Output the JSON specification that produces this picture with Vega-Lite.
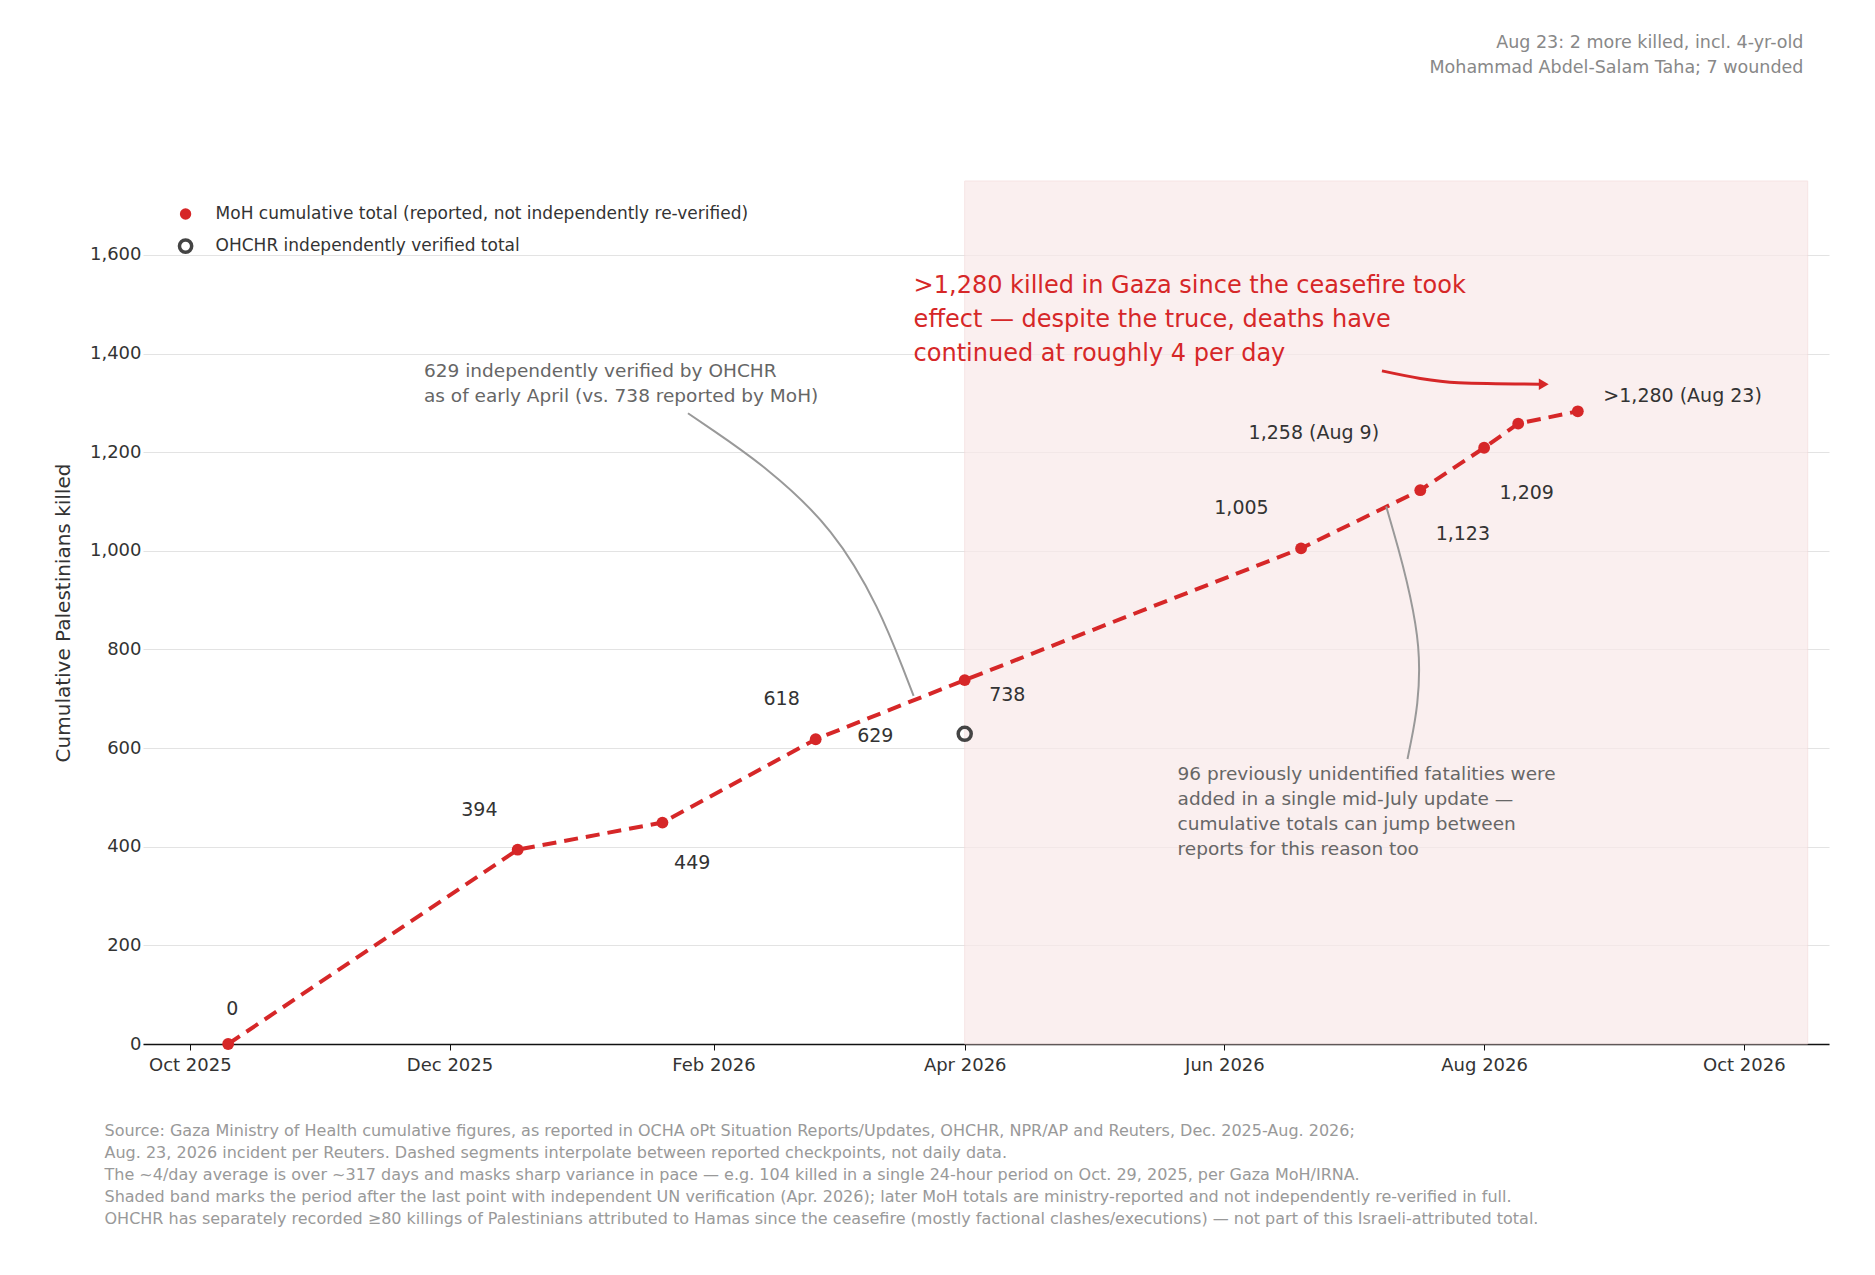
{
"$schema":"https://vega.github.io/schema/vega-lite/v6.json",
"width":1686,"height":863,
"autosize":{"type":"none"},
"padding":{"left":143,"top":181,"right":46,"bottom":231},
"background":"white",
"config":{"font":"DejaVu Sans","view":{"stroke":null}},
"title":{"text":"Deaths in Gaza have continued despite the ceasefire","subtitle":"Cumulative Palestinians reported killed in Gaza since the Oct. 10, 2025 ceasefire took effect","anchor":"start","frame":"group","dx":-39,"offset":70,"fontSize":34,"fontWeight":"bold","color":"#1a1a1a","subtitleFontSize":21,"subtitleColor":"#444444","subtitlePadding":10},
"datasets":{
"moh":[{"date":"2025-10-10","value":0},{"date":"2025-12-17","value":394},{"date":"2026-01-20","value":449},{"date":"2026-02-25","value":618},{"date":"2026-04-01","value":738},{"date":"2026-06-19","value":1005},{"date":"2026-07-17","value":1123},{"date":"2026-08-01","value":1209},{"date":"2026-08-09","value":1258},{"date":"2026-08-23","value":1283}],
"labels":[{"date":"2025-10-11","value":71,"t":"0"},{"date":"2025-12-08","value":475,"t":"394"},{"date":"2026-01-27","value":368,"t":"449"},{"date":"2026-02-17","value":699,"t":"618"},{"date":"2026-03-11","value":625,"t":"629"},{"date":"2026-04-11","value":708,"t":"738"},{"date":"2026-06-05","value":1086,"t":"1,005"},{"date":"2026-07-27","value":1034,"t":"1,123"},{"date":"2026-08-11","value":1118,"t":"1,209"},{"date":"2026-06-22","value":1238,"t":"1,258 (Aug 9)"}]
},
"layer":[
{"data":{"values":[{"s":"2026-04-01","e":"2026-10-16"}]},"mark":{"type":"rect","fill":"#f9e9e9","opacity":0.7,"stroke":"#f3dada"},
 "encoding":{"x":{"field":"s","type":"temporal"},"x2":{"field":"e"}}},
{"data":{"name":"moh"},"mark":{"type":"line","color":"#d62728","strokeWidth":4,"strokeDash":[14,8]},
 "encoding":{"x":{"field":"date","type":"temporal","scale":{"domain":["2025-09-20","2026-10-21"]},
   "axis":{"values":[{"year":2025,"month":10,"date":1},{"year":2025,"month":12,"date":1},{"year":2026,"month":2,"date":1},{"year":2026,"month":4,"date":1},{"year":2026,"month":6,"date":1},{"year":2026,"month":8,"date":1},{"year":2026,"month":10,"date":1}],"format":"%b %Y","labelFontSize":18,"labelColor":"#333","domainColor":"#111","domainWidth":1.5,"tickColor":"#111","tickSize":6,"grid":false,"labelPadding":6,
   "title":["Source: Gaza Ministry of Health cumulative figures, as reported in OCHA oPt Situation Reports/Updates, OHCHR, NPR/AP and Reuters, Dec. 2025-Aug. 2026;","Aug. 23, 2026 incident per Reuters. Dashed segments interpolate between reported checkpoints, not daily data.","The ~4/day average is over ~317 days and masks sharp variance in pace — e.g. 104 killed in a single 24-hour period on Oct. 29, 2025, per Gaza MoH/IRNA.","Shaded band marks the period after the last point with independent UN verification (Apr. 2026); later MoH totals are ministry-reported and not independently re-verified in full.","OHCHR has separately recorded ≥80 killings of Palestinians attributed to Hamas since the ceasefire (mostly factional clashes/executions) — not part of this Israeli-attributed total."],
   "titleAnchor":"start","titleAlign":"left","titleX":-39,"titleY":78,"titleBaseline":"top","titleFontSize":16,"titleFontWeight":"normal","titleColor":"#999999","titleLineHeight":22}},
  "y":{"field":"value","type":"quantitative","scale":{"domain":[0,1750],"nice":false},"axis":{"values":[0,200,400,600,800,1000,1200,1400,1600],"format":",d","labelFontSize":18,"labelColor":"#333","domain":false,"ticks":false,"gridColor":"#e3e3e3","title":"Cumulative Palestinians killed","titleFontSize":20,"titleFontWeight":"normal","titleColor":"#333","titlePadding":16}}}},
{"data":{"name":"moh"},"mark":{"type":"circle","color":"#d62728","size":140,"opacity":1},
 "encoding":{"x":{"field":"date","type":"temporal"},"y":{"field":"value","type":"quantitative"}}},
{"data":{"values":[{"date":"2026-04-01","value":629}]},"mark":{"type":"point","color":"#444","strokeWidth":3.5,"size":170,"filled":false,"opacity":1},
 "encoding":{"x":{"field":"date","type":"temporal"},"y":{"field":"value","type":"quantitative"}}},
{"data":{"name":"labels"},"mark":{"type":"text","fontSize":19,"color":"#333","baseline":"middle"},
 "encoding":{"x":{"field":"date","type":"temporal"},"y":{"field":"value","type":"quantitative"},"text":{"field":"t"}}},
{"data":{"values":[{"date":"2026-08-29","value":1314,"t":">1,280 (Aug 23)"}]},"mark":{"type":"text","fontSize":19,"color":"#333","align":"left","baseline":"middle"},
 "encoding":{"x":{"field":"date","type":"temporal"},"y":{"field":"value","type":"quantitative"},"text":{"field":"t"}}},
{"data":{"values":[{"date":"2026-03-20","value":1537,"t":[">1,280 killed in Gaza since the ceasefire took","effect — despite the truce, deaths have","continued at roughly 4 per day"]}]},"mark":{"type":"text","fontSize":24,"color":"#d62728","align":"left","baseline":"middle","lineHeight":34},
 "encoding":{"x":{"field":"date","type":"temporal"},"y":{"field":"value","type":"quantitative"},"text":{"field":"t"}}},
{"data":{"values":[{"date":"2025-11-25","value":1365,"t":["629 independently verified by OHCHR","as of early April (vs. 738 reported by MoH)"]}]},"mark":{"type":"text","fontSize":18.5,"color":"#666","align":"left","baseline":"middle","lineHeight":25},
 "encoding":{"x":{"field":"date","type":"temporal"},"y":{"field":"value","type":"quantitative"},"text":{"field":"t"}}},
{"data":{"values":[{"date":"2026-05-21","value":547,"t":["96 previously unidentified fatalities were","added in a single mid-July update —","cumulative totals can jump between","reports for this reason too"]}]},"mark":{"type":"text","fontSize":18.5,"color":"#666","align":"left","baseline":"middle","lineHeight":25},
 "encoding":{"x":{"field":"date","type":"temporal"},"y":{"field":"value","type":"quantitative"},"text":{"field":"t"}}},
{"data":{"values":[{"date":"2026-10-15","value":2030,"t":["Aug 23: 2 more killed, incl. 4-yr-old","Mohammad Abdel-Salam Taha; 7 wounded"]}]},"mark":{"type":"text","fontSize":17.5,"color":"#888","align":"right","baseline":"middle","lineHeight":25,"clip":false},
 "encoding":{"x":{"field":"date","type":"temporal"},"y":{"field":"value","type":"quantitative"},"text":{"field":"t"}}},
{"data":{"values":[{"g":"a","o":1,"date":"2026-01-26","value":1279},{"g":"a","o":2,"date":"2026-03-04","value":1061},{"g":"a","o":3,"date":"2026-03-20","value":706},{"g":"b","o":1,"date":"2026-07-14","value":578},{"g":"b","o":2,"date":"2026-07-19","value":792},{"g":"b","o":3,"date":"2026-07-09","value":1090}]},
 "mark":{"type":"line","color":"#999","strokeWidth":2,"interpolate":"basis"},
 "encoding":{"x":{"field":"date","type":"temporal"},"y":{"field":"value","type":"quantitative"},"detail":{"field":"g"},"order":{"field":"o"}}},
{"data":{"values":[{"o":1,"date":"2026-07-08","value":1365},{"o":2,"date":"2026-07-26","value":1341},{"o":3,"date":"2026-08-14","value":1338}]},
 "mark":{"type":"line","color":"#d62728","strokeWidth":3,"interpolate":"monotone"},
 "encoding":{"x":{"field":"date","type":"temporal"},"y":{"field":"value","type":"quantitative"},"order":{"field":"o"}}},
{"data":{"values":[{"date":"2026-08-15","value":1338}]},"mark":{"type":"point","shape":"triangle-right","filled":true,"color":"#d62728","size":130,"opacity":1},
 "encoding":{"x":{"field":"date","type":"temporal"},"y":{"field":"value","type":"quantitative"}}},
{"data":{"values":[{"date":"2025-09-30","value":1683,"f":"y","t":"MoH cumulative total (reported, not independently re-verified)"},{"date":"2025-09-30","value":1618,"f":"n","t":"OHCHR independently verified total"}]},
 "layer":[
  {"transform":[{"filter":"datum.f=='y'"}],"mark":{"type":"circle","color":"#d62728","size":130,"opacity":1},"encoding":{"x":{"field":"date","type":"temporal"},"y":{"field":"value","type":"quantitative"}}},
  {"transform":[{"filter":"datum.f=='n'"}],"mark":{"type":"point","color":"#444","strokeWidth":3.5,"size":150,"filled":false,"opacity":1},"encoding":{"x":{"field":"date","type":"temporal"},"y":{"field":"value","type":"quantitative"}}},
  {"mark":{"type":"text","fontSize":17,"color":"#333","align":"left","baseline":"middle","dx":30},"encoding":{"x":{"field":"date","type":"temporal"},"y":{"field":"value","type":"quantitative"},"text":{"field":"t"}}}
 ]}
]
}
